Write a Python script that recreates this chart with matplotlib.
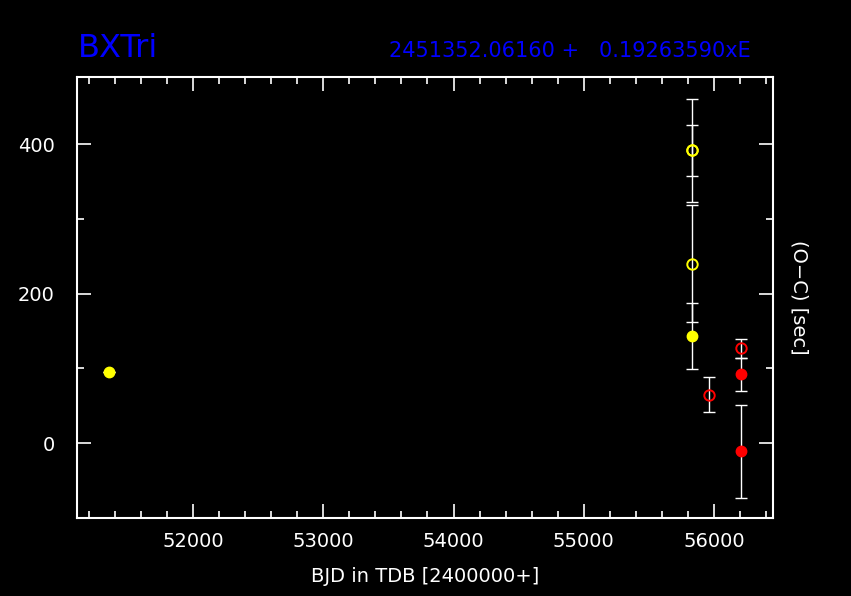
import matplotlib
matplotlib.use("Agg")
import matplotlib.pyplot as plt
from matplotlib.ticker import MultipleLocator

# --- Data ---
# yellow filled: primary minima, yellow open: secondary (same source)
yel_fill_x = [51353.0, 55834.0]
yel_fill_y = [95.0, 143.0]
yel_fill_err = [0.0, 44.0]

yel_open_x = [55834.0, 55834.0, 55834.0]
yel_open_y = [392.0, 392.0, 240.0]
yel_open_err = [69.0, 34.0, 78.0]

red_fill_x = [56205.0, 56205.0]
red_fill_y = [92.0, -11.0]
red_fill_err = [22.5, 62.0]

red_open_x = [55962.0, 56205.0]
red_open_y = [65.0, 127.0]
red_open_err = [23.5, 13.0]

title_left = "BXTri"
title_right = "2451352.06160 +   0.19263590xE"

plt.rcParams["font.family"] = ["DejaVu Sans"]

fig = plt.figure(figsize=(8.51, 5.96), dpi=100, facecolor="black")
ax = fig.add_axes([0.0905, 0.131, 0.8175, 0.740])
ax.set_facecolor("black")

ebkw = dict(fmt="none", ecolor="white", elinewidth=1.0, capsize=4, capthick=1.0, zorder=2)
ax.errorbar(yel_fill_x, yel_fill_y, yerr=yel_fill_err, **ebkw)
ax.errorbar(yel_open_x, yel_open_y, yerr=yel_open_err, **ebkw)
ax.errorbar(red_fill_x, red_fill_y, yerr=red_fill_err, **ebkw)
ax.errorbar(red_open_x, red_open_y, yerr=red_open_err, **ebkw)

ax.plot(yel_fill_x, yel_fill_y, "o", color="yellow", ms=7.5, mec="yellow", zorder=3)
ax.plot(yel_open_x, yel_open_y, "o", mfc="none", mec="yellow", ms=7.5, mew=1.4, zorder=3)
ax.plot(red_fill_x, red_fill_y, "o", color="red", ms=7.5, mec="red", zorder=3)
ax.plot(red_open_x, red_open_y, "o", mfc="none", mec="red", ms=7.5, mew=1.4, zorder=3)

ax.set_xlim(51110, 56450)
ax.set_ylim(-100, 490)
ax.xaxis.set_major_locator(MultipleLocator(1000))
ax.xaxis.set_minor_locator(MultipleLocator(200))
ax.yaxis.set_major_locator(MultipleLocator(200))
ax.yaxis.set_minor_locator(MultipleLocator(100))

for s in ax.spines.values():
    s.set_color("white")
    s.set_linewidth(1.5)
ax.tick_params(which="both", direction="in", colors="white", top=True, right=True,
               labelsize=14, width=1.2)
ax.tick_params(which="major", length=10)
ax.tick_params(which="minor", length=5)
ax.tick_params(axis="x", which="major", pad=10)
ax.tick_params(axis="y", which="major", pad=16)

ax.set_xlabel("BJD in TDB [2400000+]", color="white", fontsize=14, labelpad=12)
ax.yaxis.set_label_position("right")
ax.set_ylabel("(O\u2212C) [sec]", color="white", fontsize=14, rotation=270, labelpad=26)

fig.text(0.092, 0.918, title_left, color="blue", fontsize=23, ha="left", va="center")
fig.text(0.882, 0.914, title_right, color="blue", fontsize=15, ha="right", va="center")

fig.savefig("out.png", dpi=100, facecolor="black")
